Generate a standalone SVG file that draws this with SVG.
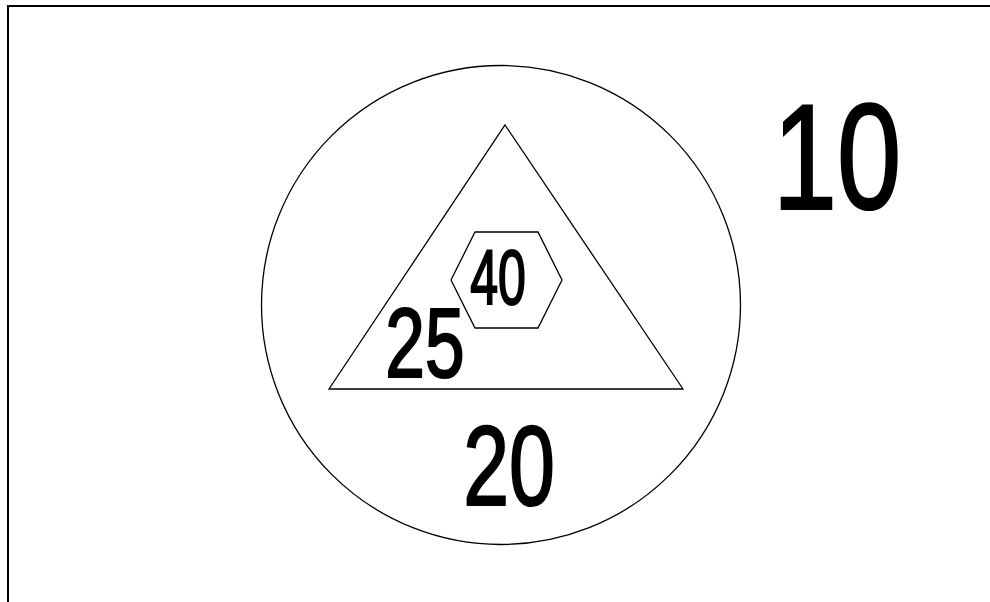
<svg xmlns="http://www.w3.org/2000/svg" width="990" height="602" viewBox="0 0 990 602">
<style>
.ln{fill:none;stroke:#000;stroke-width:1.3}
.t{font-family:"Liberation Sans",Arial,sans-serif;fill:#000;stroke:#000;stroke-width:2.2;text-anchor:middle}
</style>
<rect width="990" height="602" fill="#fff"/>
<g id="frame"><rect x="8" y="6" width="1000" height="620" fill="none" stroke="#000" stroke-width="2"/></g>
<g id="circle"><circle class="ln" cx="501" cy="305" r="239.5"/></g>
<g id="triangle"><polygon class="ln" points="505,125 683,389 329,389"/></g>
<g id="hexagon"><polygon class="ln" points="475,232 538,232 562,280 538,328 475,328 451,280"/></g>
<g id="labels">
<text class="t" transform="translate(837,209) scale(0.77,1)" font-size="150">10</text>
<text class="t" transform="translate(509,505) scale(0.73,1)" font-size="113">20</text>
<text class="t" transform="translate(425,377) scale(0.72,1)" font-size="99" stroke-width="3">25</text>
<text class="t" transform="translate(498,304) scale(0.65,1)" font-size="77" stroke-width="3">40</text>
</g>
</svg>
